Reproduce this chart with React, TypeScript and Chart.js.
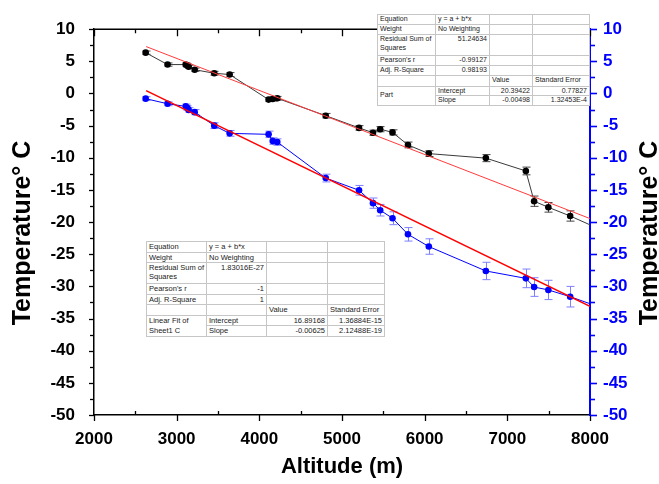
import React, { useEffect, useRef } from 'react';
import { Chart, registerables } from 'chart.js';

Chart.register(...registerables);

// ---------- data ----------
const altitudes = [2625, 2890, 3110, 3130, 3145, 3218, 3455, 3641, 4112, 4162, 4217, 4803, 5206, 5375, 5462, 5611, 5798, 6050, 6740, 7224, 7324, 7496, 7760, 8100];
const blackTemps = [6.35, 4.5, 4.5, 4.35, 4.15, 3.7, 3.15, 2.95, -0.95, -0.85, -0.75, -3.45, -5.35, -6.1, -5.55, -6.05, -8.0, -9.35, -10.05, -12.05, -16.75, -17.7, -19.05, -21.0];
const blackErrors = [0.25, 0.25, 0.25, 0.25, 0.25, 0.25, 0.3, 0.3, 0.3, 0.3, 0.3, 0.35, 0.35, 0.4, 0.4, 0.4, 0.45, 0.45, 0.55, 0.6, 0.8, 0.75, 0.8, 0];
const blueTemps = [-0.8, -1.6, -2.0, -2.25, -2.55, -2.9, -5.0, -6.2, -6.35, -7.4, -7.55, -13.15, -15.05, -17.05, -18.15, -19.4, -21.9, -23.8, -27.6, -28.75, -30.1, -30.55, -31.6, -33.15];
const blueErrors = [0.3, 0.3, 0.35, 0.35, 0.35, 0.4, 0.45, 0.45, 0.5, 0.5, 0.5, 0.6, 0.75, 0.8, 0.9, 1.0, 1.05, 1.2, 1.35, 1.45, 1.45, 1.5, 1.6, 0];

const fitAltitudes = [2630, 8000];
const blackFit = [7.3, -19.45];
const blueFit = [0.45, -33.1];

const xMin = 2000, xMax = 8000, xStep = 1000, xMinorStep = 500;
const yMin = -50, yMax = 10, yStep = 5, yMinorStep = 2.5;

const xTitle = 'Altitude (m)';
const yTitle = 'Temperature\u00B0 C';

// table contents
const statLabels = ['Equation', 'Weight', 'Residual Sum of\nSquares', "Pearson's r", 'Adj. R-Square'];
const fit1Values = ['y = a + b*x', 'No Weighting', '51.24634', '-0.99127', '0.98193'];
const fit2Values = ['y = a + b*x', 'No Weighting', '1.83016E-27', '-1', '1'];
const paramHeader = ['Value', 'Standard Error'];
const paramNames = ['Intercept', 'Slope'];
const fit1Params = [['20.39422', '0.77827'], ['-0.00498', '1.32453E-4']];
const fit2Params = [['16.89168', '1.36884E-15'], ['-0.00625', '2.12488E-19']];
const fit1Group = 'Part';
const fit2Group = 'Linear Fit of\nSheet1 C';

const FONT = "'Liberation Sans', Arial, Helvetica, sans-serif";
const BLUE = '#0000ff';

const pts = (xs: number[], ys: number[]) => xs.map((x, i) => ({ x, y: ys[i] }));

// ---------- plugins ----------
const errorBarPlugin = {
  id: 'errorBars',
  beforeDatasetsDraw(chart: any) {
    const { ctx, chartArea } = chart;
    ctx.save();
    ctx.beginPath();
    ctx.rect(chartArea.left, chartArea.top, chartArea.right - chartArea.left, chartArea.bottom - chartArea.top);
    ctx.clip();
    chart.data.datasets.forEach((ds: any) => {
      if (!ds.errors) return;
      const xs = chart.scales[ds.xAxisID || 'x'];
      const ys = chart.scales[ds.yAxisID || 'y'];
      ctx.strokeStyle = ds.errorColor;
      ctx.lineWidth = 1;
      ds.data.forEach((p: any, j: number) => {
        const e = ds.errors[j];
        if (!e) return;
        const x = Math.round(xs.getPixelForValue(p.x)) + 0.5;
        const y1 = ys.getPixelForValue(p.y + e);
        const y2 = ys.getPixelForValue(p.y - e);
        ctx.beginPath();
        ctx.moveTo(x, y1); ctx.lineTo(x, y2);
        ctx.moveTo(x - 4, y1); ctx.lineTo(x + 4, y1);
        ctx.moveTo(x - 4, y2); ctx.lineTo(x + 4, y2);
        ctx.stroke();
      });
    });
    ctx.restore();
  },
};

const axesPlugin = {
  id: 'axesDecor',
  afterDraw(chart: any) {
    const { ctx, chartArea } = chart;
    const { left, right, top, bottom } = chartArea;
    const xs = chart.scales.x;
    const ys = chart.scales.y;
    ctx.save();
    // top border
    ctx.strokeStyle = '#000';
    ctx.lineWidth = 1.5;
    ctx.beginPath();
    ctx.moveTo(left, top); ctx.lineTo(right + 0.5, top);
    ctx.stroke();
    ctx.lineWidth = 1.3;
    // bottom + top ticks
    for (let v = xMin; v <= xMax + 1e-6; v += xMinorStep) {
      const major = Math.abs(v / xStep - Math.round(v / xStep)) < 1e-6;
      const x = Math.round(xs.getPixelForValue(v)) + 0.5;
      ctx.beginPath();
      if (major) { ctx.moveTo(x, bottom); ctx.lineTo(x, bottom + 6); }
      else { ctx.moveTo(x, bottom); ctx.lineTo(x, bottom - 4); }
      if (major) { ctx.moveTo(x, top); ctx.lineTo(x, top + 7); }
      else { ctx.moveTo(x, top); ctx.lineTo(x, top + 4); }
      ctx.stroke();
    }
    // left ticks (black, outward)
    for (let v = yMin; v <= yMax + 1e-6; v += yMinorStep) {
      const major = Math.abs(v / yStep - Math.round(v / yStep)) < 1e-6;
      const y = Math.round(ys.getPixelForValue(v)) + 0.5;
      ctx.beginPath();
      ctx.moveTo(left, y); ctx.lineTo(left - (major ? 5 : 4), y);
      ctx.stroke();
    }
    // right ticks (blue, outward)
    ctx.strokeStyle = BLUE;
    ctx.lineWidth = 1.6;
    for (let v = yMin; v <= yMax + 1e-6; v += yMinorStep) {
      const major = Math.abs(v / yStep - Math.round(v / yStep)) < 1e-6;
      const y = Math.round(ys.getPixelForValue(v)) + 0.5;
      ctx.beginPath();
      ctx.moveTo(right, y); ctx.lineTo(right + (major ? 7 : 5), y);
      ctx.stroke();
    }
    // vertical titles
    ctx.fillStyle = '#000';
    ctx.font = `bold 25px ${FONT}`;
    ctx.textAlign = 'center';
    ctx.textBaseline = 'middle';
    const cy = 233;
    ctx.save();
    ctx.translate(23, cy);
    ctx.rotate(-Math.PI / 2);
    ctx.fillText(yTitle, 0, 0);
    ctx.restore();
    ctx.save();
    ctx.translate(650, cy);
    ctx.rotate(-Math.PI / 2);
    ctx.fillText(yTitle, 0, 0);
    ctx.restore();
    ctx.restore();
  },
};

// ---------- tables ----------
type TableProps = {
  left: number; top: number; colWidths: number[]; rowHeights: number[]; fontSize: number;
  values: string[]; params: string[][]; group: string;
};

function StatsTable({ left, top, colWidths, rowHeights, fontSize, values, params, group }: TableProps) {
  const cell: React.CSSProperties = {
    border: '1px solid #c6c6c6',
    padding: '0 2px',
    verticalAlign: 'top',
    overflow: 'hidden',
    whiteSpace: 'pre',
    lineHeight: `${fontSize + 1.6}px`,
    color: '#1a1a1a',
  };
  const right: React.CSSProperties = { ...cell, textAlign: 'right' };
  return (
    <table
      style={{
        position: 'absolute', left, top, borderCollapse: 'collapse', tableLayout: 'fixed',
        width: colWidths.reduce((a, b) => a + b, 0), background: '#fff',
        fontFamily: FONT, fontSize, border: '1px solid #a8a8a8',
      }}
    >
      <colgroup>
        {colWidths.map((w, i) => <col key={i} style={{ width: w }} />)}
      </colgroup>
      <tbody>
        {statLabels.map((lab, i) => (
          <tr key={i} style={{ height: rowHeights[i] }}>
            <td style={cell}>{lab}</td>
            <td style={i < 2 ? cell : right}>{values[i]}</td>
            <td style={cell}></td>
            <td style={cell}></td>
          </tr>
        ))}
        <tr style={{ height: rowHeights[5] }}>
          <td style={cell}></td>
          <td style={cell}></td>
          <td style={cell}>{paramHeader[0]}</td>
          <td style={cell}>{paramHeader[1]}</td>
        </tr>
        {paramNames.map((nm, i) => (
          <tr key={nm} style={{ height: rowHeights[6 + i] }}>
            {i === 0 && <td rowSpan={2} style={{ ...cell, verticalAlign: 'middle' }}>{group}</td>}
            <td style={cell}>{nm}</td>
            <td style={right}>{params[i][0]}</td>
            <td style={right}>{params[i][1]}</td>
          </tr>
        ))}
      </tbody>
    </table>
  );
}

export default function App() {
  const ref = useRef<HTMLCanvasElement>(null);

  useEffect(() => {
    const canvas = ref.current;
    if (!canvas) return;
    Chart.defaults.font.family = FONT;
    const tickFont = { family: FONT, size: 17, weight: 'bold' as const };
    const chart = new Chart(canvas, {
      type: 'line',
      data: {
        datasets: [
          {
            label: 'Fit black', data: pts(fitAltitudes, blackFit), borderColor: '#ff3b3b', borderWidth: 1,
            pointRadius: 0, order: 0, clip: 0, yAxisID: 'y',
          },
          {
            label: 'Fit blue', data: pts(fitAltitudes, blueFit), borderColor: '#ff0000', borderWidth: 1.6,
            pointRadius: 0, order: 0, clip: 0, yAxisID: 'y',
          },
          {
            label: 'Temperature', data: pts(altitudes, blackTemps), borderColor: '#3a3a3a', borderWidth: 1,
            pointRadius: 3.3, pointBackgroundColor: '#000', pointBorderColor: '#000', pointBorderWidth: 0,
            order: 1, clip: 0, yAxisID: 'y',
            errors: blackErrors, errorColor: '#444',
          } as any,
          {
            label: 'Temperature C', data: pts(altitudes, blueTemps), borderColor: BLUE, borderWidth: 1,
            pointRadius: 3.3, pointBackgroundColor: BLUE, pointBorderColor: BLUE, pointBorderWidth: 0,
            order: 1, clip: 0, yAxisID: 'y',
            errors: blueErrors, errorColor: '#7f7fff',
          } as any,
        ],
      },
      options: {
        animation: false,
        responsive: false,
        devicePixelRatio: 1,
        layout: { padding: { top: 15, left: 0, right: 0, bottom: 0 } },
        plugins: { legend: { display: false }, tooltip: { enabled: false } },
        elements: { line: { tension: 0 } },
        scales: {
          x: {
            type: 'linear', position: 'bottom', min: xMin, max: xMax,
            ticks: {
              stepSize: xStep, font: tickFont, color: '#000', padding: 14, maxRotation: 0, autoSkip: false,
              callback: (v: any) => String(v),
            },
            grid: { display: false, drawTicks: false },
            border: { display: true, color: '#000', width: 1.5 },
            title: { display: true, text: xTitle, color: '#000', font: { family: FONT, size: 22, weight: 'bold' }, padding: { top: 0, bottom: 4 } },
            afterFit: (s: any) => { s.height = 69; },
          },
          y: {
            type: 'linear', position: 'left', min: yMin, max: yMax,
            ticks: { stepSize: yStep, font: tickFont, color: '#000', padding: 19, autoSkip: false, callback: (v: any) => String(v) },
            grid: { display: false, drawTicks: false },
            border: { display: true, color: '#000', width: 1.5 },
            afterFit: (s: any) => { s.width = 94; },
          },
          y2: {
            type: 'linear', position: 'right', min: yMin, max: yMax,
            ticks: { stepSize: yStep, font: tickFont, color: BLUE, padding: 13, autoSkip: false, callback: (v: any) => String(v) },
            grid: { display: false, drawTicks: false },
            border: { display: true, color: BLUE, width: 2 },
            afterFit: (s: any) => { s.width = 69; },
          },
        },
      },
      plugins: [errorBarPlugin, axesPlugin],
    });
    return () => chart.destroy();
  }, []);

  return (
    <div style={{ position: 'fixed', left: 0, top: 0, width: 659, height: 484, background: '#fff', overflow: 'hidden' }}>
      <canvas ref={ref} width={659} height={484} style={{ position: 'absolute', left: 0, top: 0, width: 659, height: 484 }} />
      <StatsTable
        left={377} top={14} colWidths={[58, 54, 43, 57]} rowHeights={[10, 10, 20.5, 10, 10.5, 10.5, 9.3, 9.3]}
        fontSize={7} values={fit1Values} params={fit1Params} group={fit1Group}
      />
      <StatsTable
        left={146} top={241} colWidths={[60, 60, 61, 57]} rowHeights={[10.5, 10.5, 21, 10.5, 10.5, 10.5, 10.5, 10.5]}
        fontSize={7.5} values={fit2Values} params={fit2Params} group={fit2Group}
      />
    </div>
  );
}
